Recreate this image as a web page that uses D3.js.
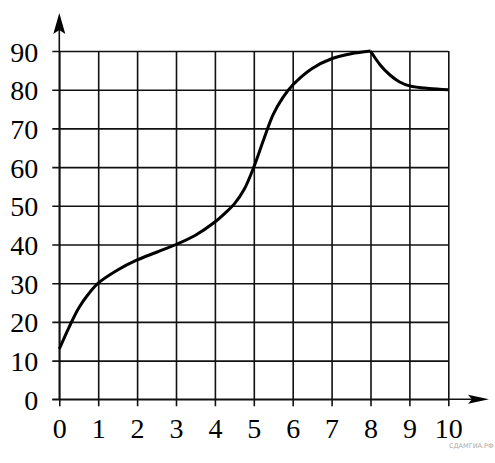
<!DOCTYPE html>
<html>
<head>
    <meta charset="UTF-8" />
    <style>
        body { margin: 0; background: #fff; }
    </style>
</head>
<body>
    <div id="chart"></div>
    <script src="https://d3js.org/d3.v7.min.js"></script>
    <script>
        // donnees
        const xTicks = [0, 1, 2, 3, 4, 5, 6, 7, 8, 9, 10];
        const yTicks = [0, 10, 20, 30, 40, 50, 60, 70, 80, 90];
        // montee jusqu'au pic (x = 8)
        const riseX = [0, 0.25, 0.5, 0.75, 1, 1.5, 2, 2.5, 3, 3.5, 4, 4.25, 4.5, 4.75, 5, 5.25, 5.5, 5.75, 6, 6.5, 7, 7.5, 8];
        const riseY = [13, 18.6, 23.6, 27.2, 30, 33.4, 36, 38, 40, 42.4, 45.8, 48, 50.5, 54.2, 60, 67, 73.6, 78, 81.2, 85.5, 88, 89.3, 90];
        // descente apres le pic
        const fallX = [8, 8.25, 8.5, 8.75, 9, 9.5, 10];
        const fallY = [90, 86.4, 83.8, 82, 81, 80.3, 80];

        let width = 495,
            height = 463;

        let svg = d3.select("#chart")
            .append("svg")
            .attr("width", width)
            .attr("height", height);

        let x = d3.scaleLinear().domain([0, 10]).range([59.3, 448.3]);
        let y = d3.scaleLinear().domain([0, 90]).range([399.3, 51]);

        const stub = 7; // petits traits qui depassent les axes
        const serif = "'Times New Roman', 'Liberation Serif', serif";

        // grille horizontale + etiquettes
        svg.append("g")
            .attr("transform", "translate(" + (x(0) - stub) + ",0)")
            .call(d3.axisLeft(y).tickValues(yTicks).tickSize(-(x(10) - x(0) + stub)).tickPadding(14))
            .call(g => g.select(".domain").remove())
            .call(g => g.selectAll("line").attr("stroke", "#111").attr("stroke-width", 1.6))
            .call(g => g.selectAll("text").attr("dy", null).attr("y", 10)
                .style("font-family", serif).style("font-size", "28px").attr("fill", "#000"));

        // grille verticale + etiquettes
        svg.append("g")
            .attr("transform", "translate(0," + (y(0) + stub) + ")")
            .call(d3.axisBottom(x).tickValues(xTicks).tickSize(-(y(0) - y(90) + stub)).tickPadding(12))
            .call(g => g.select(".domain").remove())
            .call(g => g.selectAll("line").attr("stroke", "#111").attr("stroke-width", 1.6))
            .call(g => g.selectAll("text")
                .style("font-family", serif).style("font-size", "28px").attr("fill", "#000"));

        // axes avec fleches
        svg.append("line")
            .attr("x1", x(0)).attr("x2", x(0))
            .attr("y1", y(0)).attr("y2", 20)
            .attr("stroke", "#111").attr("stroke-width", 1.6);
        svg.append("path")
            .attr("d", "M" + x(0) + ",13 L" + (x(0) - 6) + ",34 L" + x(0) + ",30 L" + (x(0) + 6) + ",34 Z")
            .attr("fill", "#000");

        svg.append("line")
            .attr("x1", x(0) - stub).attr("x2", 484)
            .attr("y1", y(0)).attr("y2", y(0))
            .attr("stroke", "#111").attr("stroke-width", 1.6);
        svg.append("path")
            .attr("d", "M489," + y(0) + " L468," + (y(0) - 4.5) + " L472," + y(0) + " L468," + (y(0) + 4.5) + " Z")
            .attr("fill", "#000");

        // courbe
        let line = d3.line()
            .x(d => x(d[0]))
            .y(d => y(d[1]))
            .curve(d3.curveCatmullRom.alpha(0.5));

        [d3.zip(riseX, riseY), d3.zip(fallX, fallY)].forEach(pts => {
            svg.append("path")
                .datum(pts)
                .attr("d", line)
                .attr("fill", "none")
                .attr("stroke", "#000")
                .attr("stroke-width", 3)
                .attr("stroke-linejoin", "round");
        });

        // filigrane
        svg.append("text")
            .attr("x", 449).attr("y", 448)
            .attr("font-family", "DejaVu Sans, sans-serif")
            .attr("font-size", 6.5)
            .attr("fill", "#aaa")
            .text("СДАМГИА.РФ");
    </script>
</body>
</html>
